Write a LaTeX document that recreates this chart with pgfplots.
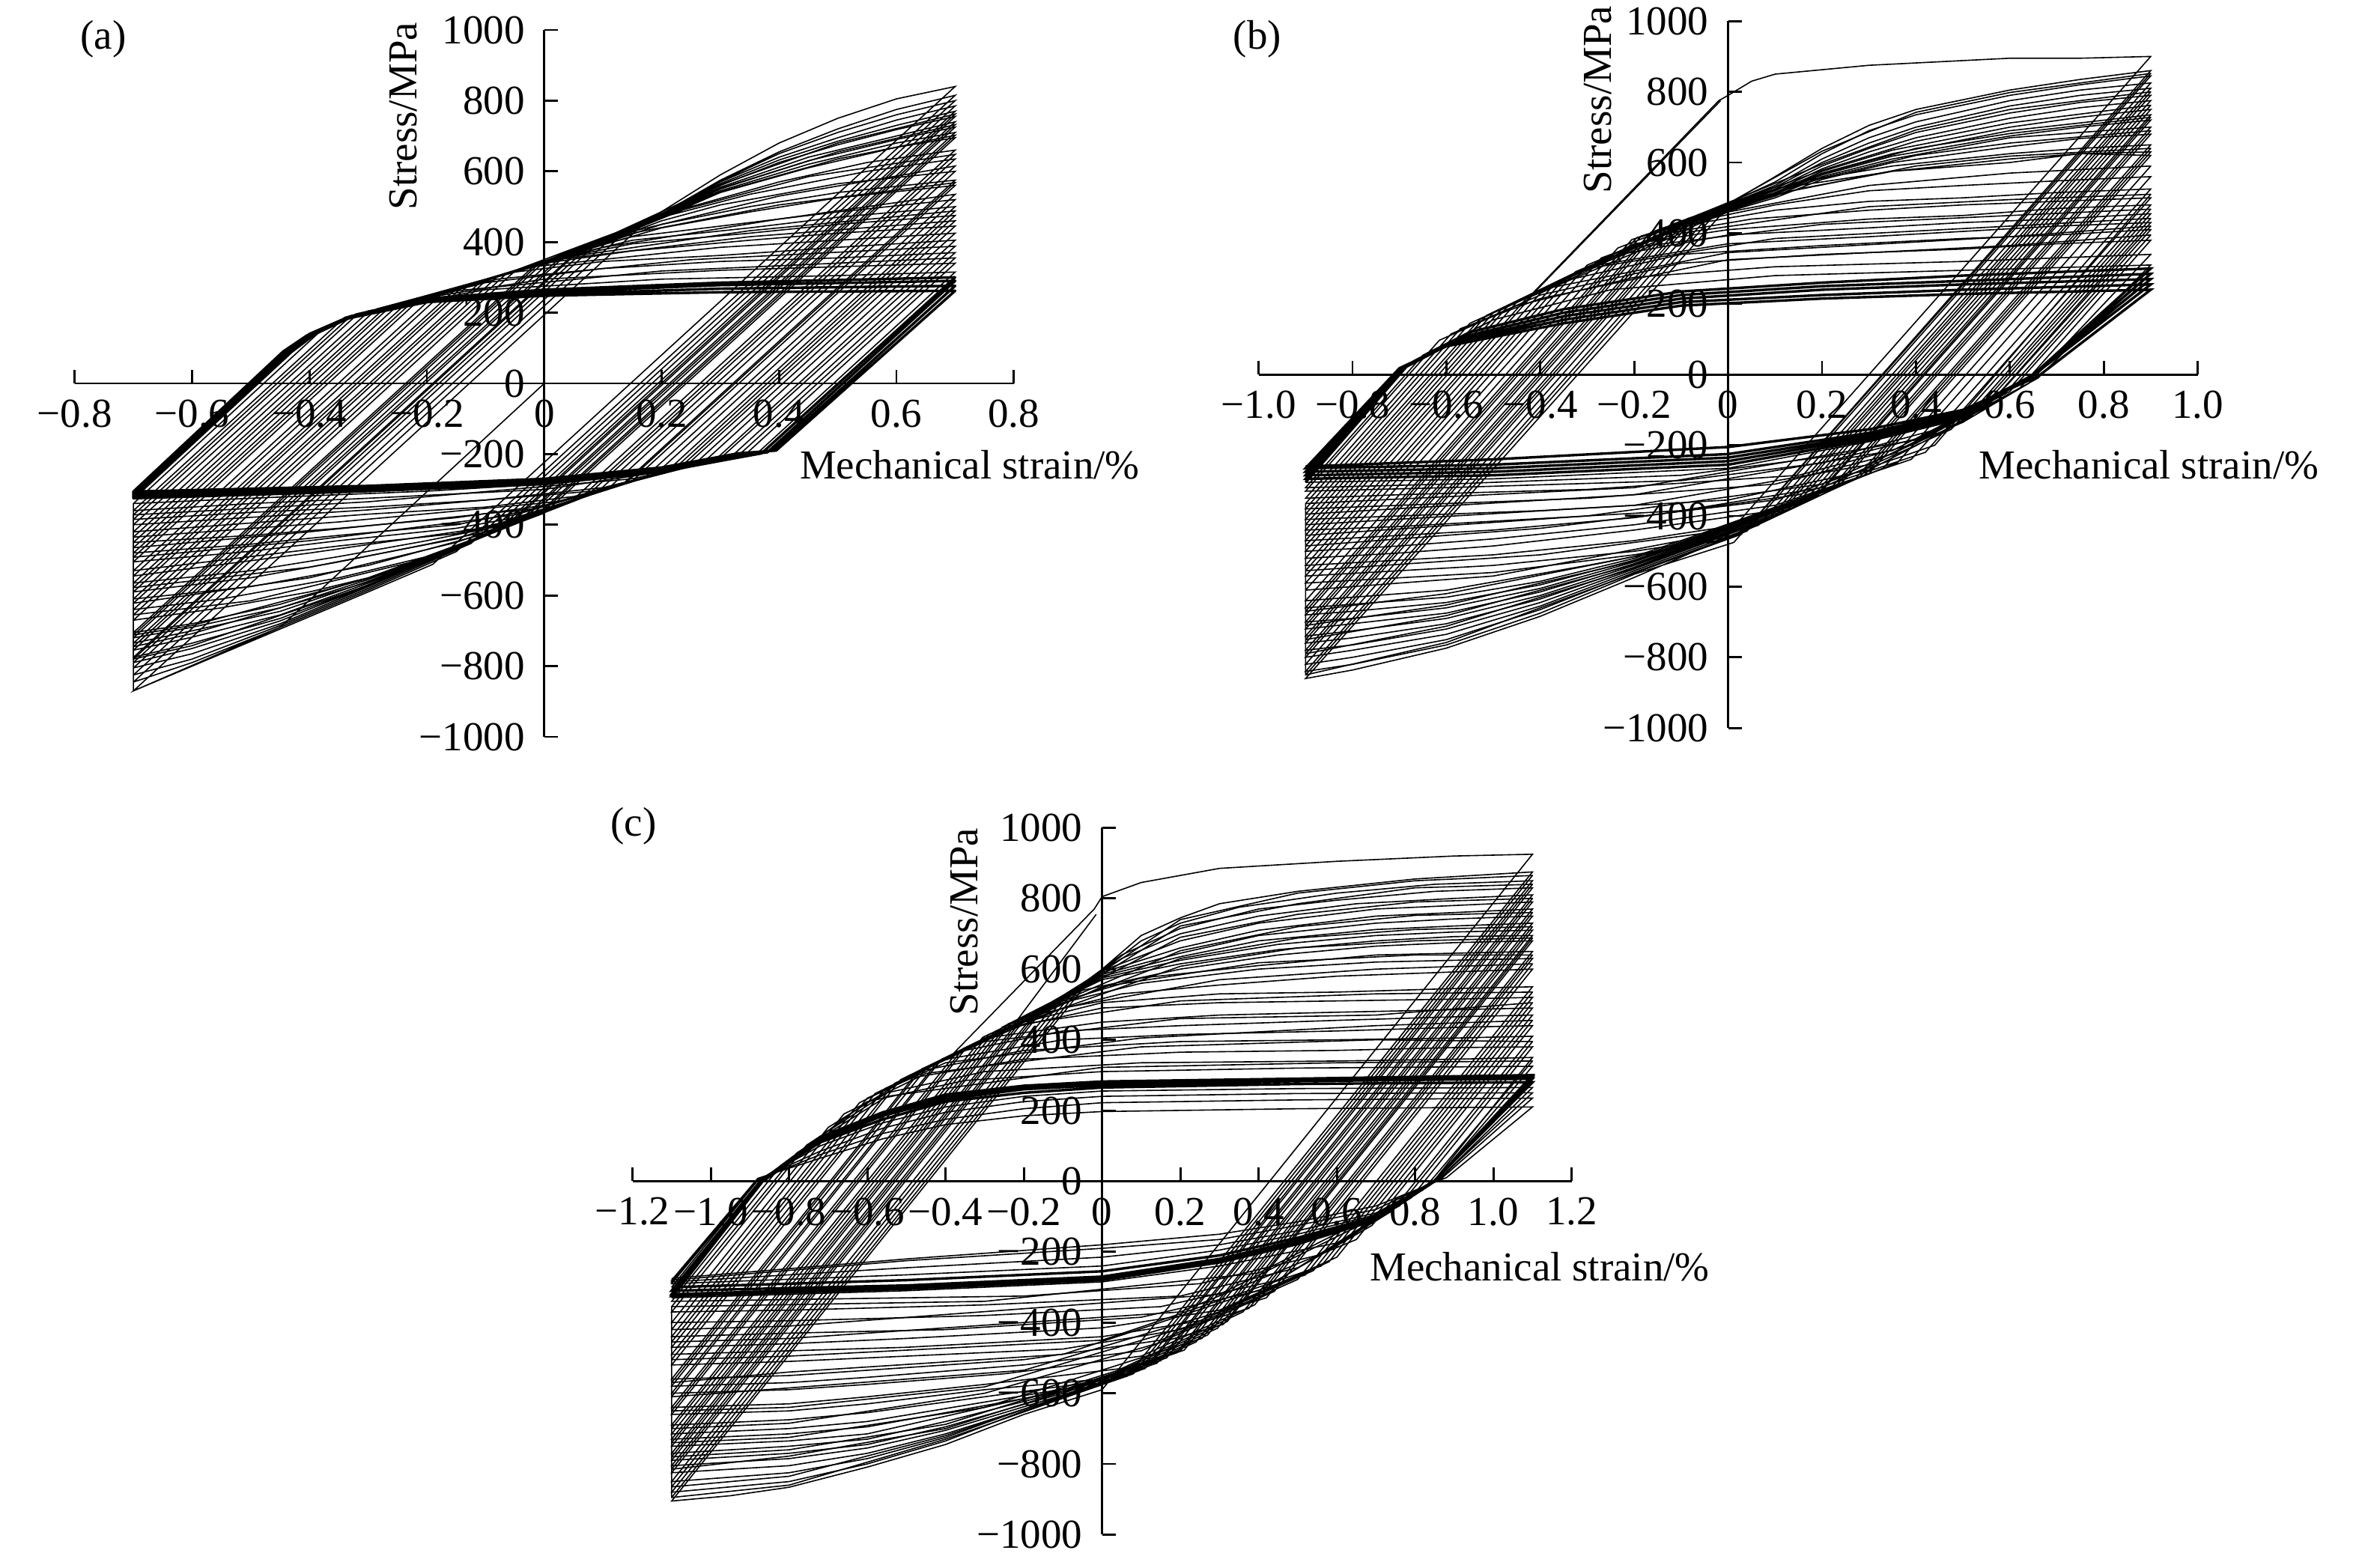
\documentclass[border=0pt]{standalone}
\usepackage{fontspec}
\setmainfont{Liberation Serif}
\usepackage{pgfplots}
\pgfplotsset{compat=1.18}

\pgfplotsset{
  panel/.style={
    scale only axis, width=313.5pt, height=236pt,
    anchor=origin,
    axis x line=middle, axis y line=middle,
    hide obscured x ticks=false, hide obscured y ticks=false,
    ymin=-1000, ymax=1000,
    ytick={-1000,-800,...,1000},
    yticklabels={−1000,−800,−600,−400,−200,0,200,400,600,800,1000},
    axis line style={line width=.7pt, -},
    tick style={line width=.7pt, black},
    tick align=inside,
    major tick length=4.5pt,
    ticklabel style={font=\fontsize{13.75}{14}\selectfont},
    x tick label style={yshift=-2pt},
    y tick label style={xshift=-3pt},
    clip=false,
    cycle list={{black,no markers,line join=round,line width=.6pt}},
    every axis x label/.style={at={(axis description cs:#1)},anchor=center},
  },
  thickband/.style={line width=.85pt},
}

\begin{document}
\begin{tikzpicture}[x=1pt,y=1pt,font=\fontsize{13.75}{14}\selectfont]
\path[use as bounding box] (0,0) rectangle (787.5,523.25);

% (a) +-0.7 %
\begin{axis}[panel={.953,.3845}, at={(181.7pt,395.25pt)},
  xmin=-.8,xmax=.8, xtick={-.8,-.6,...,.8},
  xticklabels={−0.8,−0.6,−0.4,−0.2,0,0.2,0.4,0.6,0.8},
  xlabel={Mechanical strain/\%}, ylabel={Stress/MPa},
  every axis y label/.style={at={(axis description cs:.3495,.878)},anchor=center,rotate=90},
]
\addplot coordinates {(0,0)(-.45,-690)(-.7,-870)
(.175,460)(.3,590)(.4,680)(.5,750)(.6,805)(.7,840)(-.19,-512)(-.3,-590)(-.45,-695)(-.6,-800)(-.7,-870)
(-.7,-845)(.14,432)(.2,480)(.3,575)(.4,655)(.5,720)(.6,775)(.7,815)(-.15,-476)(-.3,-585)(-.45,-690)(-.6,-790)(-.7,-845)
(-.7,-825)(.115,412)(.2,480)(.3,572)(.4,650)(.5,710)(.6,760)(.7,800)(-.125,-453)(-.3,-580)(-.45,-685)(-.6,-780)(-.7,-825)
(-.7,-805)(.09,396)(.2,480)(.3,570)(.4,640)(.5,695)(.6,745)(.7,785)(-.1,-431)(-.3,-575)(-.45,-680)(-.6,-765)(-.7,-805)
(-.7,-790)(.075,386)(.2,478)(.3,565)(.4,632)(.5,685)(.6,730)(.7,770)(-.08,-416)(-.3,-572)(-.45,-672)(-.6,-750)(-.7,-790)
(-.7,-775)(.06,380)(.2,476)(.3,560)(.4,625)(.5,675)(.6,718)(.7,755)(-.063,-405)(-.3,-570)(-.45,-665)(-.6,-735)(-.7,-775)
(-.7,-755)(.04,368)(.2,474)(.3,555)(.45,640)(.6,700)(.7,740)(-.048,-397)(-.3,-565)(-.45,-655)(-.6,-718)(-.7,-755)
(-.7,-735)(.015,352)(.2,472)(.3,550)(.45,630)(.6,690)(.7,725)(-.03,-385)(-.3,-560)(-.45,-645)(-.6,-700)(-.7,-735)
(-.7,-720)(0,344)(.2,470)(.3,545)(.45,620)(.6,680)(.7,710)(-.015,-376)(-.3,-555)(-.45,-635)(-.6,-690)(-.7,-720)
(-.7,-705)(-.015,336)(.2,468)(.3,540)(.45,610)(.6,668)(.7,695)(0,-367)(-.3,-550)(-.45,-625)(-.6,-680)(-.7,-705)
(-.7,-670)(-.05,318)(.1,400)(.25,500)(.4,570)(.55,625)(.7,660)(.045,-335)(-.1,-430)(-.25,-530)(-.4,-590)(-.55,-635)(-.7,-670)
(-.7,-640)(-.08,302)(.1,400)(.2,470)(.35,535)(.55,600)(.7,635)(.072,-319)(-.1,-428)(-.2,-490)(-.35,-550)(-.55,-610)(-.7,-640)
(-.7,-610)(-.11,285)(.1,398)(.2,460)(.3,505)(.5,565)(.7,600)(.11,-296)(-.1,-425)(-.2,-470)(-.3,-515)(-.5,-575)(-.7,-610)
(-.7,-590)(-.13,276)(.1,395)(.2,450)(.35,500)(.5,540)(.7,575)(.135,-283)(-.1,-420)(-.2,-455)(-.35,-505)(-.5,-550)(-.7,-590)
(-.7,-565)(-.15,268)(.1,392)(.2,440)(.35,485)(.5,525)(.7,560)(.15,-276)(-.08,-405)(-.2,-445)(-.35,-490)(-.5,-530)(-.7,-565)
(-.7,-530)(-.185,252)(.05,370)(.15,415)(.35,455)(.5,485)(.7,520)(.19,-256)(-.05,-385)(-.15,-425)(-.35,-460)(-.5,-490)(-.7,-530)
(-.7,-505)(-.21,241)(.05,365)(.15,405)(.35,440)(.5,470)(.7,500)(.21,-247)(-.05,-380)(-.15,-410)(-.35,-445)(-.5,-475)(-.7,-505)
(-.7,-480)(-.23,234)(.03,355)(.15,395)(.35,425)(.5,450)(.7,475)(.23,-240)(-.03,-360)(-.15,-400)(-.35,-430)(-.5,-455)(-.7,-480)
(-.7,-450)(-.26,221)(0,340)(.15,375)(.35,405)(.5,425)(.7,445)(.255,-230)(0,-345)(-.15,-380)(-.35,-410)(-.5,-430)(-.7,-450)
(-.7,-420)(-.285,211)(-.05,315)(.1,345)(.3,362)(.5,385)(.7,405)(.29,-218)(.05,-320)(-.1,-350)(-.3,-370)(-.5,-395)(-.7,-420)
(-.7,-385)(-.32,193)(-.1,285)(.1,325)(.3,345)(.5,355)(.7,370)(.32,-205)(.1,-295)(-.1,-330)(-.3,-350)(-.5,-365)(-.7,-385)
(-.7,-360)(-.34,187)(-.2,243)(0,295)(.3,320)(.5,330)(.7,340)(.34,-205)(.2,-250)(0,-300)(-.3,-325)(-.5,-340)(-.7,-360)
(-.7,-340)(-.38,150)(-.3,205)(-.1,265)(.2,295)(.5,305)(.7,315)(.36,-202)(.2,-250)(0,-285)(-.2,-305)(-.5,-325)(-.7,-340)};
\addplot coordinates {
(-.7,-780)(.065,383)(.3,562)(.5,680)(.7,762)(-.07,-410)(-.3,-571)(-.6,-742)(-.7,-780)
(-.7,-745)(.03,360)(.3,552)(.5,655)(.7,732)(-.04,-391)(-.3,-562)(-.6,-708)(-.7,-745)
(-.7,-712)(-.008,340)(.3,542)(.5,635)(.7,702)(-.008,-371)(-.3,-552)(-.6,-685)(-.7,-712)
(-.7,-655)(-.065,310)(.2,475)(.45,585)(.7,648)(.06,-327)(-.2,-495)(-.5,-615)(-.7,-655)
(-.7,-622)(-.1,290)(.15,430)(.4,530)(.7,615)(.09,-308)(-.15,-450)(-.4,-550)(-.7,-622)
(-.7,-578)(-.14,272)(.15,425)(.4,505)(.7,568)(.14,-280)(-.15,-440)(-.4,-520)(-.7,-578)
(-.7,-545)(-.17,260)(.1,385)(.4,465)(.7,535)(.17,-268)(-.1,-408)(-.4,-480)(-.7,-545)
(-.7,-492)(-.22,238)(.05,360)(.35,432)(.7,488)(.22,-244)(-.05,-372)(-.4,-445)(-.7,-492)
(-.7,-465)(-.245,228)(.02,350)(.35,415)(.7,460)(.24,-235)(-.02,-355)(-.4,-420)(-.7,-465)
(-.7,-435)(-.27,216)(-.02,330)(.3,385)(.7,425)(.27,-225)(.02,-335)(-.35,-392)(-.7,-435)
(-.7,-400)(-.3,202)(-.08,295)(.25,350)(.7,388)(.3,-212)(.08,-305)(-.3,-358)(-.7,-400)
(-.7,-372)(-.33,190)(-.15,262)(.2,318)(.7,355)(.33,-205)(.15,-270)(-.3,-335)(-.7,-372)};
\addplot+[thickband] coordinates {
(-.7,-325)(-.43,90)(-.39,140)(-.32,195)(-.2,240)(0,265)(.3,285)(.7,300)(.37,-198)(.33,-210)(.2,-250)(0,-285)(-.3,-305)(-.7,-325)
(-.7,-318)(-.435,90)(-.395,140)(-.33,190)(-.2,235)(0,258)(.3,278)(.7,290)(.38,-195)(.33,-205)(.2,-245)(0,-280)(-.3,-300)(-.7,-318)
(-.7,-312)(-.44,90)(-.4,140)(-.335,187)(-.2,232)(0,252)(.3,268)(.7,276)(.39,-190)(.33,-200)(.2,-240)(0,-275)(-.3,-295)(-.7,-312)
(-.7,-306)(-.445,90)(-.405,135)(-.34,182)(-.2,230)(0,248)(.3,258)(.7,262)(.395,-190)(.33,-198)(.2,-238)(0,-270)(-.3,-290)(-.7,-306)};
\node at (axis description cs:.0305,.987) {(a)};
\end{axis}

% (b) +-0.9 %
\begin{axis}[panel={.948,.372}, at={(576.9pt,398.2pt)},
  xmin=-1,xmax=1, xtick={-1,-.8,...,1},
  xticklabels={−1.0,−0.8,−0.6,−0.4,−0.2,0,0.2,0.4,0.6,0.8,1.0},
  xlabel={Mechanical strain/\%}, ylabel={Stress/MPa},
  every axis y label/.style={at={(axis description cs:.3615,.889)},anchor=center,rotate=90},
]
\addplot coordinates {(-.44,195)(-.016,775)};
\addplot coordinates {(-.42,225)(-.02,775)(0,790)(.05,830)(.1,850)(.3,875)(.6,895)(.75,895)(.9,900)(-.01,-465)(-.2,-574)(-.4,-684)(-.6,-774)(-.8,-836)(-.9,-860)
(.01,490)(.1,560)(.2,640)(.3,705)(.4,750)(.6,805)(.75,835)(.9,860)(.012,-475)(-.2,-565)(-.4,-675)(-.6,-765)(-.8,-820)(-.9,-840)
(-.03,466)(.1,545)(.2,625)(.3,690)(.4,735)(.6,790)(.75,820)(.9,845)(.04,-443)(-.2,-560)(-.4,-665)(-.6,-750)(-.8,-800)(-.9,-820)
(-.05,455)(.1,535)(.2,610)(.3,670)(.4,715)(.6,775)(.75,805)(.9,825)(.065,-426)(-.2,-555)(-.4,-655)(-.6,-735)(-.8,-780)(-.9,-800)
(-.066,451)(.1,530)(.2,600)(.3,655)(.4,700)(.6,760)(.75,790)(.9,810)(.085,-411)(-.2,-550)(-.4,-645)(-.6,-720)(-.8,-765)(-.9,-780)
(-.087,441)(.1,525)(.2,590)(.3,640)(.4,685)(.6,740)(.75,770)(.9,790)(.11,-394)(-.2,-545)(-.4,-635)(-.6,-705)(-.8,-745)(-.9,-760)
(-.105,432)(.1,520)(.2,582)(.3,630)(.4,670)(.6,725)(.75,755)(.9,775)(.125,-386)(-.2,-540)(-.4,-625)(-.6,-690)(-.8,-725)(-.9,-740)
(-.125,422)(.1,515)(.2,575)(.35,635)(.6,700)(.75,728)(.9,750)(.16,-361)(-.2,-535)(-.4,-615)(-.6,-675)(-.8,-705)(-.9,-720)
(-.145,412)(.1,512)(.2,570)(.35,625)(.6,690)(.75,712)(.9,735)(.175,-352)(-.2,-530)(-.4,-605)(-.6,-660)(-.8,-690)(-.9,-700)
(-.165,402)(.1,510)(.2,565)(.35,618)(.6,675)(.75,700)(.9,720)(.192,-340)(-.2,-525)(-.4,-595)(-.6,-645)(-.8,-670)(-.9,-680)
(-.185,392)(.1,505)(.2,560)(.35,610)(.6,670)(.75,685)(.9,700)(.215,-327)(-.2,-520)(-.4,-585)(-.6,-630)(-.8,-650)(-.9,-660)
(-.205,382)(.1,500)(.2,552)(.35,600)(.6,645)(.75,668)(.9,680)(.235,-316)(-.1,-490)(-.3,-540)(-.6,-610)(-.8,-630)(-.9,-640)
(-.235,358)(0,478)(.15,545)(.35,590)(.6,625)(.75,640)(.9,650)(.27,-296)(0,-465)(-.2,-510)(-.5,-560)(-.7,-575)(-.9,-590)
(-.3,310)(0,475)(.15,535)(.35,575)(.6,610)(.75,625)(.9,630)(.29,-285)(0,-460)(-.2,-500)(-.5,-540)(-.7,-555)(-.9,-570)
(-.325,291)(0,470)(.15,525)(.35,575)(.6,600)(.75,625)(.9,620)(.3,-280)(0,-430)(-.2,-470)(-.5,-510)(-.7,-525)(-.9,-540)
(-.37,256)(-.1,425)(.1,480)(.3,520)(.5,535)(.7,548)(.9,560)(.36,-250)(.1,-385)(-.2,-440)(-.5,-485)(-.7,-505)(-.9,-520)
(-.4,230)(-.1,420)(.1,465)(.3,490)(.5,500)(.7,515)(.9,525)(.39,-240)(.1,-370)(-.2,-425)(-.5,-465)(-.7,-485)(-.9,-500)
(-.415,227)(-.15,395)(.05,440)(.3,465)(.5,480)(.7,490)(.9,500)(.42,-220)(.15,-340)(-.2,-405)(-.5,-440)(-.7,-455)(-.9,-470)
(-.452,202)(-.2,370)(0,410)(.3,440)(.5,450)(.7,470)(.9,480)(.475,-155)(.2,-320)(-.1,-385)(-.5,-415)(-.7,-430)(-.9,-440)
(-.485,182)(-.25,335)(0,395)(.3,415)(.5,430)(.7,440)(.9,455)(.515,-122)(.3,-270)(0,-355)(-.4,-385)(-.7,-400)(-.9,-410)
(-.515,167)(-.3,305)(0,370)(.3,390)(.5,405)(.7,420)(.9,430)(.56,-78)(.35,-225)(.1,-310)(-.3,-350)(-.7,-370)(-.9,-380)
(-.55,145)(-.35,265)(-.1,340)(.2,365)(.5,385)(.7,395)(.9,410)(.59,-53)(.4,-195)(.15,-285)(-.3,-325)(-.7,-340)(-.9,-350)
(-.59,115)(-.4,225)(-.1,315)(.2,340)(.5,355)(.7,370)(.9,380)(.62,-40)(.45,-165)(.2,-250)(-.1,-300)(-.6,-320)(-.9,-330)
(-.615,97)(-.45,195)(-.2,275)(.1,305)(.5,320)(.7,330)(.9,340)(.64,-25)(.5,-135)(.25,-225)(-.1,-285)(-.6,-310)(-.9,-320)
(-.65,55)(-.5,155)(-.25,240)(.1,280)(.5,295)(.9,310)(.66,-10)(.5,-125)(.3,-190)(0,-265)(-.5,-295)(-.9,-305)};
\addplot coordinates {
(-.9,-850)(-.015,473)(.2,632)(.4,742)(.6,798)(.9,852)(.028,-452)(-.2,-562)(-.6,-758)(-.9,-850)
(-.9,-790)(-.077,445)(.2,595)(.4,692)(.6,750)(.9,800)(.1,-400)(-.2,-548)(-.6,-712)(-.9,-790)
(-.9,-750)(-.115,427)(.2,578)(.4,660)(.6,712)(.9,762)(.14,-375)(-.2,-538)(-.6,-682)(-.9,-750)
(-.9,-710)(-.155,407)(.2,568)(.4,640)(.6,682)(.9,728)(.185,-346)(-.2,-528)(-.6,-652)(-.9,-710)
(-.9,-670)(-.195,387)(.2,556)(.4,620)(.6,655)(.9,690)(.225,-322)(-.2,-515)(-.6,-620)(-.9,-670)
(-.9,-610)(-.27,330)(.1,510)(.4,590)(.6,618)(.9,640)(.28,-290)(-.1,-470)(-.5,-570)(-.9,-610)
(-.9,-555)(-.35,270)(0,460)(.3,535)(.6,570)(.9,590)(.33,-265)(0,-440)(-.4,-510)(-.9,-555)
(-.9,-485)(-.43,215)(-.1,400)(.3,475)(.6,495)(.9,510)(.44,-200)(.1,-355)(-.4,-435)(-.9,-485)
(-.9,-455)(-.47,192)(-.2,360)(.2,425)(.6,450)(.9,468)(.5,-135)(.2,-310)(-.3,-400)(-.9,-455)
(-.9,-425)(-.5,175)(-.3,300)(.1,385)(.6,420)(.9,442)(.54,-95)(.3,-255)(-.2,-370)(-.9,-425)
(-.9,-395)(-.53,155)(-.4,240)(0,345)(.6,390)(.9,420)(.57,-65)(.35,-215)(-.2,-340)(-.9,-395)
(-.9,-365)(-.57,130)(-.4,215)(0,325)(.6,365)(.9,395)(.6,-48)(.4,-185)(-.2,-320)(-.9,-365)};
\addplot+[thickband] coordinates {(-.9,-305)
(-.68,30)(-.55,120)(-.35,185)(-.1,235)(.2,260)(.5,280)(.9,300)(.65,0)(.5,-120)(.3,-185)(0,-255)(-.5,-285)(-.9,-295)
(-.69,20)(-.57,105)(-.35,175)(-.1,225)(.2,250)(.5,265)(.9,285)(.65,0)(.5,-115)(.3,-178)(0,-245)(-.5,-275)(-.9,-285)
(-.7,12)(-.58,95)(-.35,165)(-.1,215)(.2,240)(.5,255)(.9,270)(.65,0)(.5,-110)(.3,-172)(0,-235)(-.5,-265)(-.9,-275)
(-.7,15)(-.6,85)(-.35,155)(-.1,205)(.2,225)(.5,240)(.9,255)(.65,-2)(.5,-105)(.3,-165)(0,-225)(-.5,-255)(-.9,-265)
(-.7,18)(-.6,80)(-.35,145)(-.1,195)(.2,215)(.5,228)(.9,240)(.66,-5)(.5,-100)(.3,-155)(0,-205)(-.5,-240)(-.9,-260)};
\node at (axis description cs:-.0014,.975) {(b)};
\end{axis}

% (c) +-1.1 %
\begin{axis}[panel={.966,.3785}, at={(367.9pt,128.9pt)},
  xmin=-1.2,xmax=1.2, xtick={-1.2,-1,...,1.2},
  xticklabels={−1.2,−1.0,−0.8,−0.6,−0.4,−0.2,0,0.2,0.4,0.6,0.8,1.0,1.2},
  xlabel={Mechanical strain/\%}, ylabel={Stress/MPa},
  every axis y label/.style={at={(axis description cs:.3535,.867)},anchor=center,rotate=90},
]
\addplot coordinates {(-.226,442)(-.015,755)};
\addplot coordinates {(-.396,343)(-.02,770)(0,805)(.1,845)(.3,885)(.6,905)(.9,920)(1.1,925)(0,-590)(-.2,-660)(-.4,-745)(-.6,-809)(-.8,-866)(-.95,-890)(-1.1,-905)
(-.03,571)(.1,695)(.2,745)(.3,785)(.5,820)(.8,855)(1.1,875)(.065,-551)(-.2,-650)(-.4,-735)(-.6,-800)(-.8,-850)(-1.1,-880)
(-.08,527)(.1,680)(.2,730)(.35,775)(.6,815)(.85,840)(1.1,850)(.095,-536)(-.2,-645)(-.4,-725)(-.6,-785)(-.8,-825)(-1.1,-850)
(-.12,502)(.05,640)(.2,715)(.4,770)(.6,795)(.85,820)(1.1,830)(.12,-523)(-.1,-610)(-.4,-715)(-.6,-770)(-.8,-805)(-1.1,-825)
(-.15,487)(.05,630)(.2,700)(.4,750)(.65,785)(.9,800)(1.1,810)(.14,-515)(-.1,-605)(-.4,-705)(-.6,-755)(-.8,-785)(-1.1,-805)
(-.17,477)(0,595)(.2,680)(.4,730)(.7,770)(.9,780)(1.1,790)(.165,-500)(-.1,-600)(-.4,-695)(-.6,-745)(-.8,-770)(-1.1,-790)
(-.19,468)(0,590)(.2,660)(.4,710)(.7,750)(.9,760)(1.1,770)(.19,-486)(-.1,-595)(-.4,-680)(-.6,-730)(-.8,-750)(-1.1,-770)
(-.21,458)(0,585)(.2,645)(.4,695)(.7,730)(.9,742)(1.1,750)(.21,-478)(-.1,-590)(-.4,-665)(-.6,-715)(-.8,-735)(-1.1,-750)
(-.23,450)(0,580)(.2,635)(.4,680)(.7,712)(.9,722)(1.1,730)(.24,-455)(0,-575)(-.3,-635)(-.6,-695)(-.8,-715)(-1.1,-730)
(-.255,436)(0,575)(.2,625)(.45,670)(.7,695)(.9,705)(1.1,710)(.27,-435)(0,-570)(-.3,-625)(-.6,-680)(-.8,-700)(-1.1,-715)
(-.275,423)(0,570)(.2,615)(.45,655)(.7,680)(.9,692)(1.1,695)(.295,-416)(0,-565)(-.3,-610)(-.6,-655)(-.8,-675)(-1.1,-690)
(-.305,407)(-.05,540)(.2,600)(.45,640)(.7,665)(.9,675)(1.1,680)(.32,-397)(0,-560)(-.3,-590)(-.6,-630)(-.8,-650)(-1.1,-660)
(-.345,380)(-.1,510)(.1,575)(.4,610)(.7,640)(.9,645)(1.1,650)(.36,-370)(.05,-530)(-.3,-575)(-.6,-610)(-.8,-630)(-1.1,-640)
(-.37,366)(-.1,505)(.1,560)(.4,600)(.7,620)(.9,625)(1.1,630)(.39,-350)(.1,-495)(-.25,-545)(-.6,-575)(-.8,-590)(-1.1,-600)
(-.42,338)(-.15,475)(.05,530)(.3,555)(.6,580)(.9,592)(1.1,600)(.44,-312)(.1,-480)(-.2,-520)(-.6,-555)(-.8,-570)(-1.1,-580)
(-.445,325)(-.2,450)(0,505)(.3,530)(.6,535)(.9,545)(1.1,550)(.5,-278)(.15,-450)(-.2,-505)(-.6,-535)(-.8,-550)(-1.1,-560)
(-.47,311)(-.25,430)(0,490)(.3,505)(.6,510)(.9,515)(1.1,520)(.54,-253)(.2,-420)(-.1,-475)(-.5,-495)(-.8,-510)(-1.1,-520)
(-.515,287)(-.3,405)(0,450)(.3,470)(.6,478)(.9,485)(1.1,490)(.58,-228)(.25,-395)(0,-440)(-.5,-470)(-.8,-480)(-1.1,-490)
(-.555,262)(-.35,370)(-.1,425)(.2,440)(.6,455)(.9,465)(1.1,470)(.6,-215)(.3,-365)(0,-415)(-.5,-445)(-.8,-460)(-1.1,-470)
(-.58,248)(-.4,345)(-.1,400)(.2,415)(.6,425)(.9,435)(1.1,440)(.69,-125)(.4,-310)(.1,-385)(-.4,-420)(-.8,-430)(-1.1,-440)
(-.62,222)(-.45,315)(-.2,370)(.2,395)(.6,400)(.9,405)(1.1,410)(.74,-85)(.45,-280)(.15,-355)(-.3,-380)(-.8,-395)(-1.1,-400)
(-.7,152)(-.5,290)(-.2,345)(.2,365)(.6,370)(.9,378)(1.1,380)(.79,-47)(.5,-245)(.2,-325)(-.3,-350)(-.8,-365)(-1.1,-370)
(-.755,102)(-.55,250)(-.3,310)(.1,335)(.6,340)(.9,345)(1.1,350)(.84,-10)(.55,-210)(.25,-290)(-.2,-325)(-.8,-335)(-1.1,-340)
(-.82,45)(-.6,225)(-.35,285)(0,310)(.5,320)(1.1,325)(.85,0)(.6,-175)(.3,-240)(0,-285)(-.5,-310)(-1.1,-330)};
\addplot coordinates {
(-1.1,-895)(-.05,555)(.2,740)(.5,815)(.8,850)(1.1,865)(.08,-545)(-.4,-730)(-.8,-860)(-1.1,-895)
(-1.1,-865)(-.1,515)(.2,722)(.5,785)(.8,830)(1.1,840)(.11,-530)(-.4,-720)(-.8,-835)(-1.1,-865)
(-1.1,-815)(-.16,482)(.2,690)(.5,755)(.8,790)(1.1,800)(.15,-508)(-.4,-700)(-.8,-778)(-1.1,-815)
(-1.1,-780)(-.2,463)(.2,652)(.5,720)(.8,752)(1.1,760)(.2,-480)(-.4,-688)(-.8,-760)(-1.1,-780)
(-1.1,-740)(-.24,445)(.2,630)(.5,688)(.8,712)(1.1,720)(.255,-445)(-.3,-640)(-.8,-725)(-1.1,-740)
(-1.1,-700)(-.29,415)(.2,608)(.5,660)(.8,680)(1.1,688)(.31,-405)(-.3,-600)(-.8,-685)(-1.1,-700)
(-1.1,-650)(-.355,375)(0,550)(.4,618)(.8,640)(1.1,640)(.375,-360)(-.3,-582)(-.8,-640)(-1.1,-650)
(-1.1,-610)(-.41,345)(-.1,490)(.3,570)(.7,600)(1.1,615)(.42,-330)(-.2,-535)(-.8,-585)(-1.1,-610)
(-1.1,-570)(-.46,318)(-.2,445)(.2,510)(.7,530)(1.1,535)(.52,-265)(-.1,-490)(-.8,-540)(-1.1,-570)
(-1.1,-505)(-.53,277)(-.3,395)(.2,460)(.7,470)(1.1,505)(.56,-240)(0,-450)(-.8,-495)(-1.1,-505)
(-1.1,-455)(-.6,235)(-.4,335)(.1,405)(.7,440)(1.1,455)(.65,-165)(.2,-370)(-.8,-445)(-1.1,-455)
(-1.1,-420)(-.66,190)(-.45,305)(.1,380)(.7,400)(1.1,395)(.76,-70)(.3,-320)(-.8,-410)(-1.1,-420)
(-1.1,-355)(-.78,80)(-.55,240)(0,322)(.6,335)(1.1,340)(.82,-25)(.4,-260)(-.3,-340)(-1.1,-355)};
\addplot+[thickband] coordinates {
(-1.1,-330)(-.86,10)(-.72,125)(-.56,195)(-.4,245)(-.2,270)(0,282)(.5,290)(1.1,300)(.85,0)(.7,-110)(.5,-178)(.3,-230)(0,-280)(-.5,-305)(-1.1,-325)
(-.87,0)(-.72,120)(-.56,190)(-.4,240)(-.2,265)(0,278)(.5,288)(1.1,295)(.85,0)(.7,-108)(.5,-172)(.3,-225)(0,-276)(-.5,-300)(-1.1,-320)
(-.87,-3)(-.72,115)(-.56,185)(-.4,232)(-.2,260)(0,272)(.5,283)(1.1,290)(.85,0)(.7,-105)(.5,-168)(.3,-220)(0,-270)(-.5,-295)(-1.1,-310)
(-.87,5)(-.72,110)(-.56,175)(-.4,225)(-.2,250)(0,265)(.5,275)(1.1,280)(.85,2)(.7,-100)(.5,-160)(.3,-210)(0,-255)(-.5,-280)(-1.1,-300)};
\addplot coordinates {(-1.1,-300)
(-.88,2)(-.72,100)(-.56,165)(-.4,210)(-.2,240)(0,255)(.5,262)(1.1,265)(.86,5)(.7,-95)(.5,-150)(.3,-195)(0,-240)(-.5,-265)(-1.1,-290)
(-.88,5)(-.72,85)(-.56,150)(-.4,195)(-.2,225)(0,240)(.5,248)(1.1,250)(.86,5)(.7,-90)(.5,-140)(.3,-180)(0,-215)(-.5,-245)(-1.1,-285)
(-.88,5)(-.72,75)(-.56,135)(-.4,175)(-.2,205)(0,222)(.5,230)(1.1,235)(.87,10)(.7,-80)(.5,-125)(.3,-165)(0,-190)(-.5,-225)(-1.1,-280)
(-.88,8)(-.72,65)(-.56,120)(-.4,160)(-.2,185)(0,197)(.5,205)(1.1,210)(.88,10)(.7,-70)(.5,-115)(.3,-150)(0,-180)(-.5,-220)(-1.1,-275)};
\node at (axis description cs:.001,1.0025) {(c)};
\end{axis}
\end{tikzpicture}
\end{document}
